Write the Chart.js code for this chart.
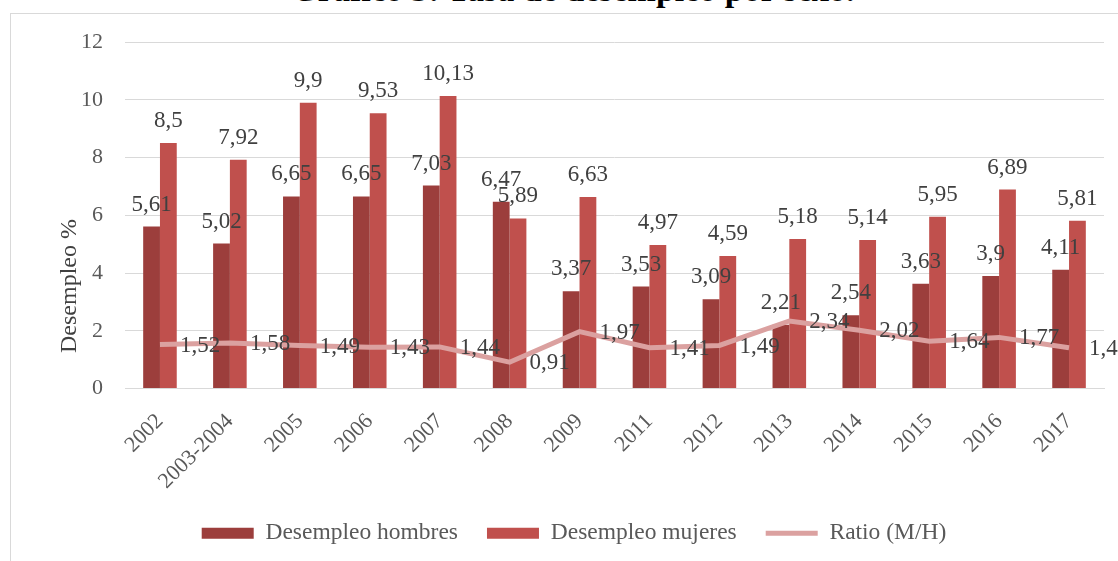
<!DOCTYPE html>
<html>
<head>
<meta charset="utf-8">
<script src="https://cdn.jsdelivr.net/npm/chart.js@4"></script>
<style>
  html, body { margin: 0; padding: 0; background: #fff; overflow: hidden; }
  #wrap { position: relative; width: 1118px; height: 561px; overflow: hidden; }
  #frame { position: absolute; left: 10px; top: 13px; width: 1200px; height: 700px; border: 1px solid #d9d9d9; box-sizing: border-box; }
  #title {
    position: absolute; left: 0; width: 1146px; top: -27px; text-align: center; white-space: nowrap;
    font: bold 34px/1 "Liberation Serif", serif; color: #000;
  }
  canvas { position: absolute; left: 0; top: 0; }
</style>
</head>
<body>
<div id="wrap">
  <div id="frame"></div>
  <div id="title">Gráfico 3: Tasa de desempleo por sexo.</div>
  <canvas id="chart" width="1118" height="561"></canvas>
</div>
<script>
// data
const years   = ['2002', '2003-2004', '2005', '2006', '2007', '2008', '2009', '2011', '2012', '2013', '2014', '2015', '2016', '2017'];
const hombres = [5.61, 5.02, 6.65, 6.65, 7.03, 6.47, 3.37, 3.53, 3.09, 2.21, 2.54, 3.63, 3.9, 4.11];
const mujeres = [8.5, 7.92, 9.9, 9.53, 10.13, 5.89, 6.63, 4.97, 4.59, 5.18, 5.14, 5.95, 6.89, 5.81];
const ratio   = [1.52, 1.58, 1.49, 1.43, 1.44, 0.91, 1.97, 1.41, 1.49, 2.34, 2.02, 1.64, 1.77, 1.41];
const yTicks  = [0, 2, 4, 6, 8, 10, 12];

const SERIF = '"Liberation Serif", "Times New Roman", serif';
const fmt = v => String(v).replace('.', ',');

// value labels: above bars, to the right of the ratio points
const valueLabels = {
  id: 'valueLabels',
  afterDatasetsDraw(chart) {
    const ctx = chart.ctx;
    ctx.save();
    ctx.font = '23px ' + SERIF;
    ctx.fillStyle = '#404040';
    chart.data.datasets.forEach((ds, i) => {
      chart.getDatasetMeta(i).data.forEach((el, j) => {
        const txt = fmt(ds.data[j]);
        if (ds.type === 'line') {
          ctx.textAlign = 'left';
          ctx.textBaseline = 'middle';
          ctx.fillText(txt, el.x + 20, el.y + 1);
        } else {
          ctx.textAlign = 'center';
          ctx.textBaseline = 'alphabetic';
          ctx.fillText(txt, el.x, el.y - 16);
        }
      });
    });
    ctx.restore();
  }
};

// y axis title, placed like the original (not centred on the plot)
const yTitle = {
  id: 'yTitle',
  afterDraw(chart) {
    const ctx = chart.ctx;
    ctx.save();
    ctx.translate(70, 286);
    ctx.rotate(-Math.PI / 2);
    ctx.font = '24px ' + SERIF;
    ctx.fillStyle = '#404040';
    ctx.textAlign = 'center';
    ctx.textBaseline = 'middle';
    ctx.fillText('Desempleo %', 0, 0);
    ctx.restore();
  }
};

new Chart(document.getElementById('chart'), {
  data: {
    labels: years,
    datasets: [
      { type: 'bar', label: 'Desempleo hombres', data: hombres, backgroundColor: '#9C3E3C', order: 1 },
      { type: 'bar', label: 'Desempleo mujeres', data: mujeres, backgroundColor: '#C0504D', order: 1 },
      { type: 'line', label: 'Ratio (M/H)', data: ratio, borderColor: '#DBA1A0', backgroundColor: '#DBA1A0',
        borderWidth: 5, pointRadius: 0, tension: 0, order: 0 }
    ]
  },
  options: {
    responsive: false,
    animation: false,
    layout: { padding: { left: 44, right: 14, top: 42, bottom: 6 } },
    datasets: { bar: { barPercentage: 1, categoryPercentage: 0.48 } },
    plugins: {
      tooltip: { enabled: false },
      legend: {
        position: 'bottom',
        labels: {
          font: { family: SERIF, size: 23.5 },
          color: '#595959',
          usePointStyle: true,
          pointStyleWidth: 52,
          boxHeight: 11,
          padding: 29,
          sort: (a, b) => a.datasetIndex - b.datasetIndex,
          generateLabels: chart => Chart.defaults.plugins.legend.labels.generateLabels(chart).map(l => {
            const isLine = l.datasetIndex === 2;
            return Object.assign(l, {
              pointStyle: isLine ? 'line' : 'rect',
              lineWidth: isLine ? 5 : 0,
              strokeStyle: isLine ? '#DBA1A0' : l.fillStyle
            });
          })
        }
      }
    },
    scales: {
      x: {
        grid: { display: false },
        border: { color: '#d9d9d9' },
        ticks: {
          font: { family: SERIF, size: 22 },
          color: '#595959',
          maxRotation: 45,
          minRotation: 45,
          padding: 12
        },
        afterFit: s => { s.height = 104; }
      },
      y: {
        min: 0,
        max: 12,
        afterBuildTicks: s => { s.ticks = yTicks.map(v => ({ value: v })); },
        grid: { color: '#d9d9d9', drawTicks: false },
        border: { display: false },
        ticks: {
          font: { family: SERIF, size: 22 },
          color: '#595959',
          padding: 22
        },
        afterFit: s => { s.width = 81; }
      }
    }
  },
  plugins: [valueLabels, yTitle]
});
</script>
</body>
</html>
